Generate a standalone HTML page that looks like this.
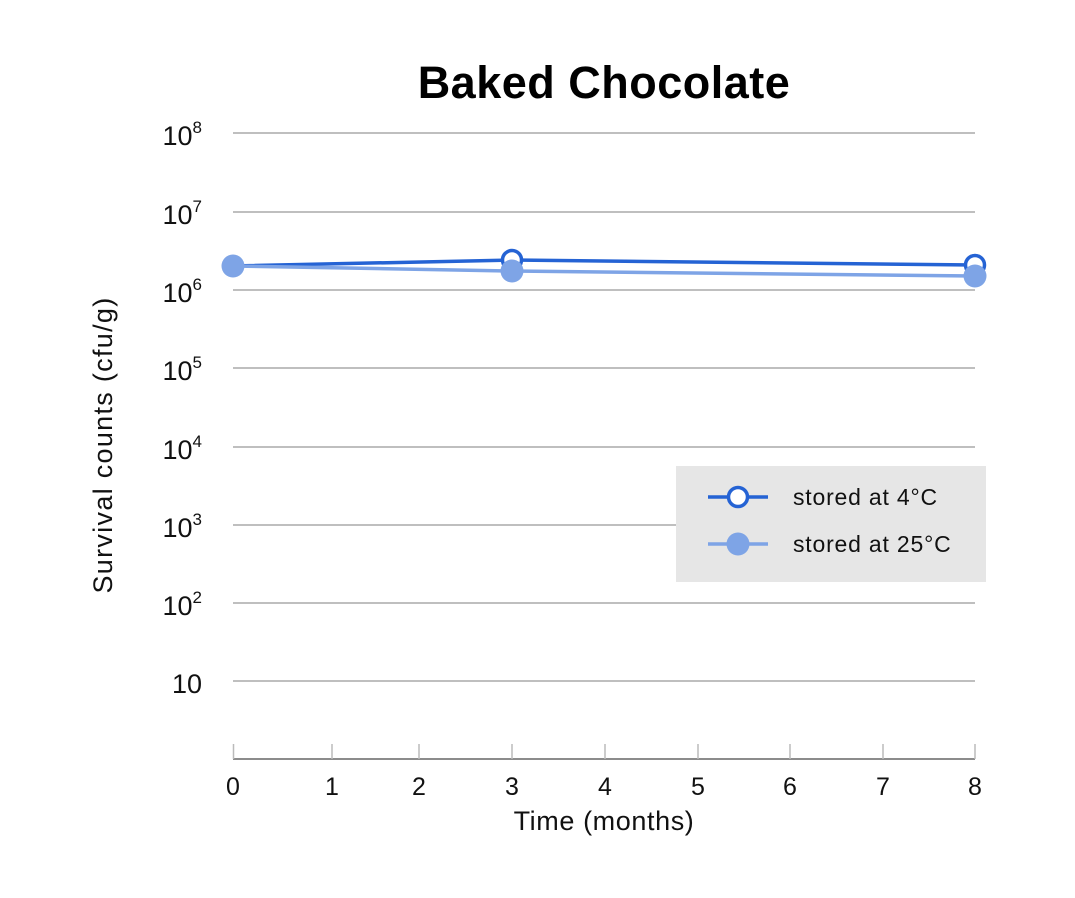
<!DOCTYPE html>
<html><head><style>body{margin:0;background:#fff}svg{display:block}</style></head><body>
<svg width="1075" height="898" xmlns="http://www.w3.org/2000/svg" font-family="Liberation Sans, sans-serif">
<text x="604" y="98" text-anchor="middle" font-size="45" font-weight="bold" fill="#000" letter-spacing="0.5">Baked Chocolate</text>
<g stroke="#999" stroke-width="1.2">
<line x1="233" y1="133" x2="975" y2="133"/><line x1="233" y1="212" x2="975" y2="212"/>
<line x1="233" y1="290" x2="975" y2="290"/><line x1="233" y1="368" x2="975" y2="368"/>
<line x1="233" y1="447" x2="975" y2="447"/><line x1="233" y1="525" x2="975" y2="525"/>
<line x1="233" y1="603" x2="975" y2="603"/><line x1="233" y1="681" x2="975" y2="681"/>
</g>
<line x1="233" y1="759" x2="975" y2="759" stroke="#666" stroke-width="1.5"/>
<g stroke="#bbb" stroke-width="1.5">
<line x1="233.5" y1="744" x2="233.5" y2="759"/><line x1="332" y1="744" x2="332" y2="759"/><line x1="419" y1="744" x2="419" y2="759"/><line x1="512" y1="744" x2="512" y2="759"/><line x1="605" y1="744" x2="605" y2="759"/><line x1="698" y1="744" x2="698" y2="759"/><line x1="790" y1="744" x2="790" y2="759"/><line x1="883" y1="744" x2="883" y2="759"/><line x1="975" y1="744" x2="975" y2="759"/>
</g>
<g font-size="25" fill="#111" text-anchor="middle">
<text x="233" y="795">0</text><text x="332" y="795">1</text><text x="419" y="795">2</text><text x="512" y="795">3</text><text x="605" y="795">4</text><text x="698" y="795">5</text><text x="790" y="795">6</text><text x="883" y="795">7</text><text x="975" y="795">8</text>
</g>
<text x="604" y="830" font-size="27" fill="#111" text-anchor="middle" letter-spacing="0.6">Time (months)</text>
<g font-size="27" fill="#111" text-anchor="end">
<text x="202" y="145">10<tspan font-size="17" dy="-12">8</tspan></text>
<text x="202" y="224">10<tspan font-size="17" dy="-12">7</tspan></text>
<text x="202" y="302">10<tspan font-size="17" dy="-12">6</tspan></text>
<text x="202" y="380">10<tspan font-size="17" dy="-12">5</tspan></text>
<text x="202" y="459">10<tspan font-size="17" dy="-12">4</tspan></text>
<text x="202" y="537">10<tspan font-size="17" dy="-12">3</tspan></text>
<text x="202" y="615">10<tspan font-size="17" dy="-12">2</tspan></text>
<text x="202" y="693">10</text>
</g>
<text transform="translate(112,445) rotate(-90)" font-size="27" fill="#111" text-anchor="middle" letter-spacing="1.3">Survival counts (cfu/g)</text>
<polyline points="233,266 512,260 975,265" fill="none" stroke="#2563d4" stroke-width="3.5"/>
<circle cx="512" cy="260" r="9.5" fill="#fff" stroke="#2563d4" stroke-width="3.5"/>
<circle cx="975" cy="265" r="9.5" fill="#fff" stroke="#2563d4" stroke-width="3.5"/>
<polyline points="233,266 512,271 975,276" fill="none" stroke="#7ea4e6" stroke-width="3.5"/>
<circle cx="233" cy="266" r="11.5" fill="#7ea4e6"/>
<circle cx="512" cy="271" r="11.5" fill="#7ea4e6"/>
<circle cx="975" cy="276" r="11.5" fill="#7ea4e6"/>
<rect x="676" y="466" width="310" height="116" fill="#e6e6e6"/>
<line x1="708" y1="497" x2="768" y2="497" stroke="#2563d4" stroke-width="3.5"/>
<circle cx="738" cy="497" r="9.5" fill="#fff" stroke="#2563d4" stroke-width="3.5"/>
<line x1="708" y1="544" x2="768" y2="544" stroke="#7ea4e6" stroke-width="3.5"/>
<circle cx="738" cy="544" r="11.5" fill="#7ea4e6"/>
<text x="793" y="505" font-size="23" fill="#111" letter-spacing="0.8">stored at 4°C</text>
<text x="793" y="552" font-size="23" fill="#111" letter-spacing="0.8">stored at 25°C</text>
</svg>
</body></html>
